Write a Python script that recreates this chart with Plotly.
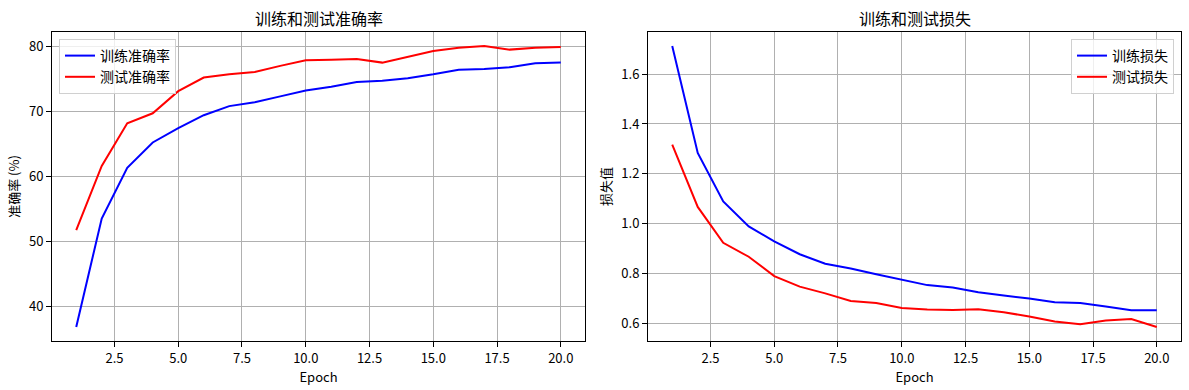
import plotly.graph_objects as go

epochs = list(range(1, 21))
train_acc = [36.8, 53.5, 61.3, 65.2, 67.4, 69.4, 70.8, 71.4, 72.3, 73.2,
             73.8, 74.5, 74.7, 75.1, 75.7, 76.4, 76.5, 76.8, 77.4, 77.5]
test_acc = [51.7, 61.6, 68.15, 69.7, 73.1, 75.2, 75.7, 76.05, 77.0, 77.85,
            77.95, 78.05, 77.5, 78.4, 79.3, 79.8, 80.05, 79.5, 79.8, 79.9]
train_loss = [1.713, 1.284, 1.089, 0.989, 0.929, 0.877, 0.839, 0.820, 0.797, 0.776,
              0.753, 0.743, 0.724, 0.711, 0.699, 0.684, 0.681, 0.667, 0.652, 0.652]
test_loss = [1.317, 1.067, 0.923, 0.867, 0.789, 0.747, 0.720, 0.689, 0.681, 0.661,
             0.655, 0.653, 0.656, 0.644, 0.627, 0.607, 0.596, 0.611, 0.617, 0.585]

FONT = "SimHei, Noto Sans CJK SC, sans-serif"
W, H = 1189, 390

fig = go.Figure()
fig.add_trace(go.Scatter(x=epochs, y=train_acc, mode="lines", name="训练准确率",
                         line=dict(color="blue", width=2), xaxis="x", yaxis="y", legend="legend"))
fig.add_trace(go.Scatter(x=epochs, y=test_acc, mode="lines", name="测试准确率",
                         line=dict(color="red", width=2), xaxis="x", yaxis="y", legend="legend"))
fig.add_trace(go.Scatter(x=epochs, y=train_loss, mode="lines", name="训练损失",
                         line=dict(color="blue", width=2), xaxis="x2", yaxis="y2", legend="legend2"))
fig.add_trace(go.Scatter(x=epochs, y=test_loss, mode="lines", name="测试损失",
                         line=dict(color="red", width=2), xaxis="x2", yaxis="y2", legend="legend2"))

def pad(lo, hi):
    m = (hi - lo) * 0.05
    return [lo - m, hi + m]

xr = pad(1, 20)
yd = [1 - 341 / H, 1 - 32 / H]
common = dict(showline=True, linecolor="black", linewidth=1, mirror=True,
              ticks="outside", ticklen=5, tickwidth=1, tickcolor="black",
              showgrid=True, gridcolor="#b0b0b0", gridwidth=1, zeroline=False,
              automargin=False,
              tickfont=dict(family=FONT, size=13, color="black"))

fig.update_layout(
    width=W, height=H,
    margin=dict(l=0, r=0, t=0, b=0),
    paper_bgcolor="white", plot_bgcolor="white",
    font=dict(family=FONT, color="black"),
    xaxis=dict(domain=[52 / W, 585 / W], range=xr, dtick=2.5, tick0=0, tickformat=".1f",
               anchor="y", title=dict(text="Epoch", font=dict(size=13), standoff=0), **common),
    yaxis=dict(domain=yd, range=pad(min(train_acc), max(test_acc)), dtick=10, anchor="x",
               title=dict(text="准确率 (%)", font=dict(size=13), standoff=6), **common),
    xaxis2=dict(domain=[648 / W, 1181 / W], range=xr, dtick=2.5, tick0=0, tickformat=".1f",
                anchor="y2", title=dict(text="Epoch", font=dict(size=13), standoff=0), **common),
    yaxis2=dict(domain=yd, range=pad(min(test_loss), max(train_loss)), dtick=0.2, tickformat=".1f",
                anchor="x2", title=dict(text="损失值", font=dict(size=13), standoff=6), **common),
    legend=dict(x=59 / W, y=1 - 39 / H, xanchor="left", yanchor="top",
                bgcolor="rgba(255,255,255,0.8)", bordercolor="#d0d0d0", borderwidth=1,
                font=dict(family=FONT, size=14), tracegroupgap=0),
    legend2=dict(x=1174 / W, y=1 - 39 / H, xanchor="right", yanchor="top",
                 bgcolor="rgba(255,255,255,0.8)", bordercolor="#d0d0d0", borderwidth=1,
                 font=dict(family=FONT, size=14), tracegroupgap=0),
    annotations=[
        dict(text="训练和测试准确率", x=(52 + 585) / 2 / W, y=1 - 18 / H, xref="paper", yref="paper",
             showarrow=False, font=dict(family=FONT, size=16), xanchor="center", yanchor="middle"),
        dict(text="训练和测试损失", x=(648 + 1181) / 2 / W, y=1 - 18 / H, xref="paper", yref="paper",
             showarrow=False, font=dict(family=FONT, size=16), xanchor="center", yanchor="middle"),
    ],
    showlegend=True,
)

fig.write_html("out.html", config={"displayModeBar": False},
               post_script="document.body.style.margin='0';document.body.style.overflow='hidden';")
